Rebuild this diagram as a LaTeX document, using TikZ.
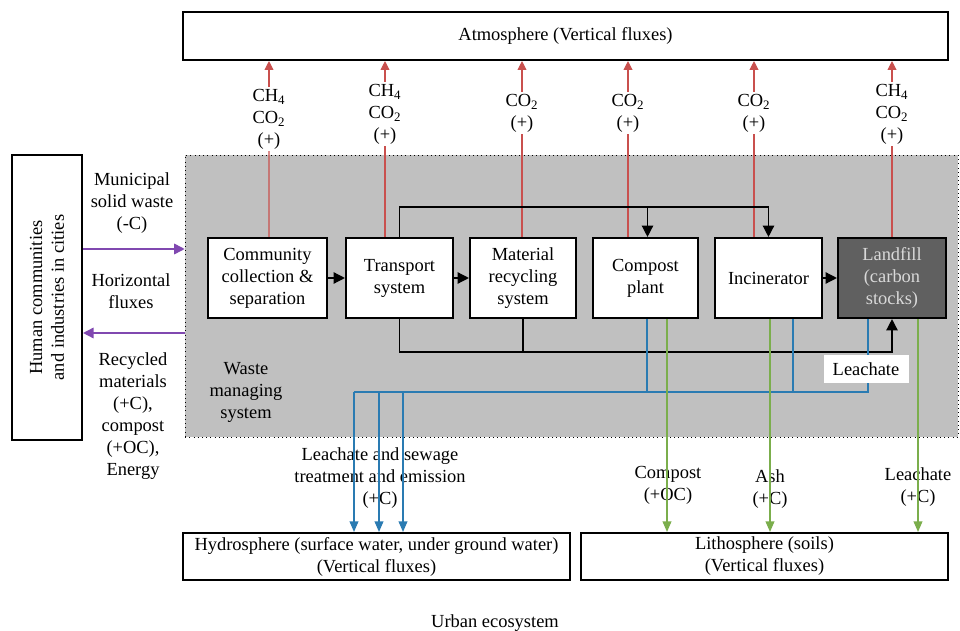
\documentclass[tikz,border=0pt]{standalone}
\usepackage{fontspec}
\setmainfont{Liberation Serif}
\usetikzlibrary{arrows.meta,calc}
\definecolor{fluxred}{HTML}{C9504E}
\definecolor{fluxblue}{HTML}{2A7BB2}
\definecolor{fluxgreen}{HTML}{7BAE4C}
\definecolor{fluxpurple}{HTML}{8048B0}
\definecolor{wastegray}{HTML}{C0C0C0}
\definecolor{landgray}{HTML}{606060}
\begin{document}
\begin{tikzpicture}[x=0.02cm,y=-0.02cm]
	\tikzstyle{every node}+=[font=\fontsize{10.5}{12.5}\selectfont,align=center,inner sep=1pt]
	\tikzstyle{unit}=[draw=black,line width=1.2pt,fill=white,minimum height=1.6cm]
	\tikzstyle{sphere}=[draw=black,line width=1.2pt,fill=white]
	\tikzstyle{redarrow}=[fluxred,line width=0.6pt,-{Triangle[width=5pt,length=5pt]}]
	\tikzstyle{blackarrow}=[black,line width=0.8pt,-{Triangle[width=6.5pt,length=6.5pt]}]
	\tikzstyle{purplearrow}=[fluxpurple,line width=0.9pt,-{Triangle[width=6pt,length=6pt]}]
	\tikzstyle{bluearrow}=[fluxblue,line width=0.7pt,-{Triangle[width=5pt,length=6pt]}]
	\tikzstyle{greenarrow}=[fluxgreen,line width=0.7pt,-{Triangle[width=5pt,length=6pt]}]
	\useasboundingbox (0,0) rectangle (960,631);
	% spheres and the waste managing area
	\node[sphere,minimum width=15.3cm,minimum height=0.96cm] (atm) at (565.5,36) {Atmosphere (Vertical fluxes)};
	\node[draw=black,dotted,fill=wastegray,minimum width=15.46cm,minimum height=5.64cm] (wms) at (571.5,296) {};
	\node[sphere,minimum width=1.4cm,minimum height=5.7cm] (human) at (47,297.5) {};
	\node[rotate=90] (humantxt) at (human) {Human communities\\and industries in cities};
	\node[sphere,minimum width=7.74cm,minimum height=0.94cm] (hydro) at (376.5,556.5) {Hydrosphere (surface water, under ground water)\\(Vertical fluxes)};
	\node[sphere,minimum width=7.34cm,minimum height=0.94cm] (lith) at (764.5,556.5) {Lithosphere (soils)\\(Vertical fluxes)};
	% treatment units
	\node[unit,minimum width=2.38cm] (comm) at (267.5,278) {Community\\collection \&\\separation};
	\node[unit,minimum width=2.14cm] (tran) at (399.5,278) {Transport\\system};
	\node[unit,minimum width=2.12cm] (mat) at (523,278) {Material\\recycling\\system};
	\node[unit,minimum width=2.1cm] (comp) at (645.5,278) {Compost\\plant};
	\node[unit,minimum width=2.14cm] (inc) at (768.5,278) {Incinerator};
	\node[unit,minimum width=2.16cm,fill=landgray,text=black!15] (land) at (892,278) {Landfill\\(carbon\\stocks)};
	% side labels
	\node (msw) at (132,203) {Municipal\\solid waste\\(-C)};
	\node (hflux) at (131,291) {Horizontal\\fluxes};
	\node (recyc) at (133,416) {Recycled\\materials\\(+C),\\compost\\(+OC),\\Energy};
	\node (wmstxt) at (246,392) {Waste\\managing\\system};
	\node (urban) at (495,623) {Urban ecosystem};
	% horizontal fluxes
	\coordinate (mswrail) at (0,249);
	\coordinate (recrail) at (0,333);
	\draw[purplearrow] (human.east |- mswrail) -- (wms.west |- mswrail);
	\draw[purplearrow] (wms.west |- recrail) -- (human.east |- recrail);
	% gas emissions
	\node (gas1) at (269,119) {CH\textsubscript{4}\\CO\textsubscript{2}\\(+)};
	\node (gas2) at (385,114) {CH\textsubscript{4}\\CO\textsubscript{2}\\(+)};
	\node (gas3) at (522,113) {CO\textsubscript{2}\\(+)};
	\node (gas4) at (628,113) {CO\textsubscript{2}\\(+)};
	\node (gas5) at (754,113) {CO\textsubscript{2}\\(+)};
	\node (gas6) at (892,114) {CH\textsubscript{4}\\CO\textsubscript{2}\\(+)};
	\draw[fluxred,line width=0.6pt] ($(comm.north)+(1.5,0)$) -- (gas1);
	\draw[fluxred,line width=0.6pt] ($(tran.north)+(-14.5,0)$) -- (gas2);
	\draw[fluxred,line width=0.6pt] ($(mat.north)+(-1,0)$) -- (gas3);
	\draw[fluxred,line width=0.6pt] ($(comp.north)+(-17.5,0)$) -- (gas4);
	\draw[fluxred,line width=0.6pt] ($(inc.north)+(-14.5,0)$) -- (gas5);
	\draw[fluxred,line width=0.6pt] (land.north) -- (gas6);
	\foreach \g in {gas1,gas2,gas3,gas4,gas5,gas6}
		\draw[redarrow] (\g) -- (\g |- atm.south);
	% waste stream
	\coordinate (toprail) at (0,207);
	\coordinate (botrail) at (0,352);
	\coordinate (c1) at ($(comp.north)+(2,0)$);
	\draw[blackarrow] (comm) -- (tran);
	\draw[blackarrow] (tran) -- (mat);
	\draw[blackarrow] (inc) -- (land);
	\draw[blackarrow] (tran.north) |- (inc.north |- toprail) -- (inc.north);
	\draw[blackarrow] (c1 |- toprail) -- (c1);
	\draw[blackarrow] (tran.south) |- (land.south |- botrail) -- (land.south);
	\draw[black,line width=0.8pt] (mat.south) -- (mat.south |- botrail);
	% labels of the outflows
	\node (sewage) at (380,478) {Leachate and sewage\\treatment and emission\\(+C)};
	\node (complab) at (668,485) {Compost\\(+OC)};
	\node (ashlab) at (770,489) {Ash\\(+C)};
	\node (leachlab) at (918,487) {Leachate\\(+C)};
	% leachate to water
	\coordinate (w1) at (354,392);
	\coordinate (w2) at (379,392);
	\coordinate (w3) at (403,392);
	\coordinate (b1) at ($(comp.south)+(1.5,0)$);
	\coordinate (b2) at ($(inc.south)+(24.5,0)$);
	\coordinate (b3) at ($(land.south)+(-24,0)$);
	\draw[fluxblue,line width=0.7pt] (b3) |- (w1);
	\draw[fluxblue,line width=0.7pt] (b2) -- (b2 |- w1);
	\draw[fluxblue,line width=0.7pt] (b1) -- (b1 |- w1);
	\foreach \w in {w1,w2,w3}
		\draw[bluearrow] (\w) -- (\w |- hydro.north);
	\node[fill=white,minimum width=1.7cm,minimum height=0.56cm] (leach) at (866,369) {Leachate};
	% solids to soils
	\coordinate (g1) at ($(comp.south)+(21.5,0)$);
	\coordinate (g2) at ($(inc.south)+(1.5,0)$);
	\coordinate (g3) at ($(land.south)+(26,0)$);
	\foreach \g in {g1,g2,g3}
		\draw[greenarrow] (\g) -- (\g |- lith.north);
\end{tikzpicture}
\end{document}
